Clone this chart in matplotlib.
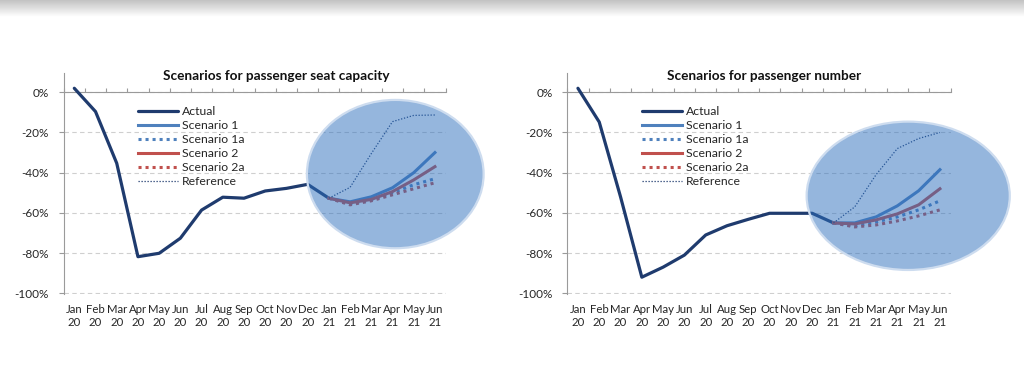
import numpy as np
import matplotlib
matplotlib.use("Agg")
import matplotlib.pyplot as plt
from matplotlib.patches import Ellipse

plt.rcParams['font.family'] = ['Lato', 'DejaVu Sans']

# Month labels on the category axis
months = ['Jan\n20', 'Feb\n20', 'Mar\n20', 'Apr\n20', 'May\n20', 'Jun\n20',
          'Jul\n20', 'Aug\n20', 'Sep\n20', 'Oct\n20', 'Nov\n20', 'Dec\n20',
          'Jan\n21', 'Feb\n21', 'Mar\n21', 'Apr\n21', 'May\n21', 'Jun\n21']

# Seat capacity (% change), actual Jan 20 - Jan 21, scenarios Jan 21 - Jun 21
seat_actual = [2, -9.6, -35.3, -81.8, -80.1, -72.6, -58.6, -52.2, -52.7, -49.1, -47.8, -45.8, -52.7]
seat_s1 = [-52.7, -54.5, -52, -47.5, -40, -30]
seat_s1a = [-52.7, -55.5, -53.5, -50, -46, -43]
seat_s2 = [-52.7, -55, -53.3, -49.4, -43.6, -37]
seat_s2a = [-52.7, -56, -54, -51, -48, -45]
seat_ref = [-52.7, -47.3, -30.5, -14.6, -11.5, -11.3]

# Passenger number (% change)
pax_actual = [2, -14.8, -52, -92, -87, -81, -71, -66.4, -63.2, -60.2, -60.2, -60.2, -65]
pax_s1 = [-65, -65, -62, -56.5, -49, -38.5]
pax_s1a = [-65, -66.5, -64.5, -62, -58.5, -54]
pax_s2 = [-65, -65.5, -63.5, -60.5, -56, -48]
pax_s2a = [-65, -67, -66, -64, -61.5, -58.5]
pax_ref = [-65, -57, -41, -28, -23, -20]

navy = '#1f3b6e'
blue = '#4f81bd'
red = '#c0504d'
axis_gray = '#9a9a9a'
grid_gray = '#cfcfcf'
text_col = '#262626'


def draw_panel(ax, title, title_x, actual, s1, s1a, s2, s2a, ref, ell):
    x_act = np.arange(len(actual))
    x_sc = np.arange(len(actual) - 1, len(months))

    ax.plot(x_act, actual, color=navy, lw=2.3, label='Actual', solid_capstyle='round', zorder=3)
    ax.plot(x_sc, s1, color=blue, lw=2.2, label='Scenario 1', zorder=3)
    ax.plot(x_sc, s1a, color=blue, lw=2.2, ls=(0, (1, 1.3)), dash_capstyle='butt',
            label='Scenario 1a', zorder=3)
    ax.plot(x_sc, s2, color=red, lw=2.2, label='Scenario 2', zorder=3)
    ax.plot(x_sc, s2a, color=red, lw=2.2, ls=(0, (1, 1.3)), dash_capstyle='butt',
            label='Scenario 2a', zorder=3)
    ax.plot(x_sc, ref, color=navy, lw=0.9, ls=(0, (1, 1.4)), label='Reference', zorder=3)

    # highlight ellipse over the forecast period
    cx, cy, w, h = ell
    ax.add_patch(Ellipse((cx, cy), w, h, facecolor='#2d6fbd', alpha=0.5,
                         edgecolor='none', clip_on=False, zorder=4))
    ax.add_patch(Ellipse((cx, cy), w, h, facecolor='none', edgecolor='#cddcef',
                         lw=1.6, clip_on=False, zorder=5))

    ax.set_xlim(-0.5, len(months) - 0.5)
    ax.set_ylim(-100.5, 9.5)
    ax.set_xticks(np.arange(len(months)))
    ax.set_xticklabels(months, linespacing=1.15)
    ax.set_xticks(np.arange(-0.5, len(months), 1), minor=True)
    ax.tick_params(axis='x', which='major', length=0, pad=7, labelsize=8.2, labelcolor=text_col)
    ax.tick_params(axis='x', which='minor', top=True, bottom=False, direction='out',
                   length=3, color=axis_gray, width=0.8)

    yt = np.arange(-100, 1, 20)
    ax.set_yticks(yt)
    ax.set_yticklabels([f'{v}%' for v in yt])
    ax.tick_params(axis='y', length=3.5, color=axis_gray, width=0.8, pad=7,
                   labelsize=8.5, labelcolor=text_col)
    ax.yaxis.grid(True, color=grid_gray, ls=(0, (4, 3)), lw=0.8)
    ax.set_axisbelow(True)

    ax.spines['top'].set_position(('data', 0))
    ax.spines['top'].set_color(axis_gray)
    ax.spines['top'].set_linewidth(0.8)
    ax.spines['left'].set_color(axis_gray)
    ax.spines['left'].set_linewidth(0.8)
    ax.spines['bottom'].set_visible(False)
    ax.spines['right'].set_visible(False)
    ax.patch.set_alpha(0)

    ax.text(title_x, 0.987, title, transform=ax.transAxes, ha='center', va='center',
            fontsize=9.8, fontweight='bold', color='#111111')

    leg = ax.legend(loc='upper left', bbox_to_anchor=(0.195, 0.852), frameon=False,
                    fontsize=8.8, handlelength=3.3, handletextpad=0.3,
                    labelspacing=0.25, borderpad=0, borderaxespad=0)
    for t in leg.get_texts():
        t.set_color(text_col)
    leg.set_zorder(6)


fig = plt.figure(figsize=(10.24, 3.86), dpi=100)
fig.patch.set_facecolor('white')

# grey shadow band along the top edge
top = fig.add_axes([0, 1 - 17 / 386, 1, 17 / 386])
grad = np.linspace(0.76, 1.0, 64).reshape(-1, 1)
top.imshow(grad, cmap='gray', vmin=0, vmax=1, aspect='auto', interpolation='bilinear')
top.axis('off')

ax1 = fig.add_axes([0.0622, 0.2376, 0.3729, 0.5728])
ax2 = fig.add_axes([0.5540, 0.2376, 0.3743, 0.5728])

draw_panel(ax1, 'Scenarios for passenger seat capacity', 0.556,
           seat_actual, seat_s1, seat_s1a, seat_s2, seat_s2a, seat_ref,
           (15.13, -40.7, 8.33, 73.8))
draw_panel(ax2, 'Scenarios for passenger number', 0.513,
           pax_actual, pax_s1, pax_s1a, pax_s2, pax_s2a, pax_ref,
           (15.51, -51.5, 9.54, 73.8))

fig.savefig('out.png', dpi=100)
